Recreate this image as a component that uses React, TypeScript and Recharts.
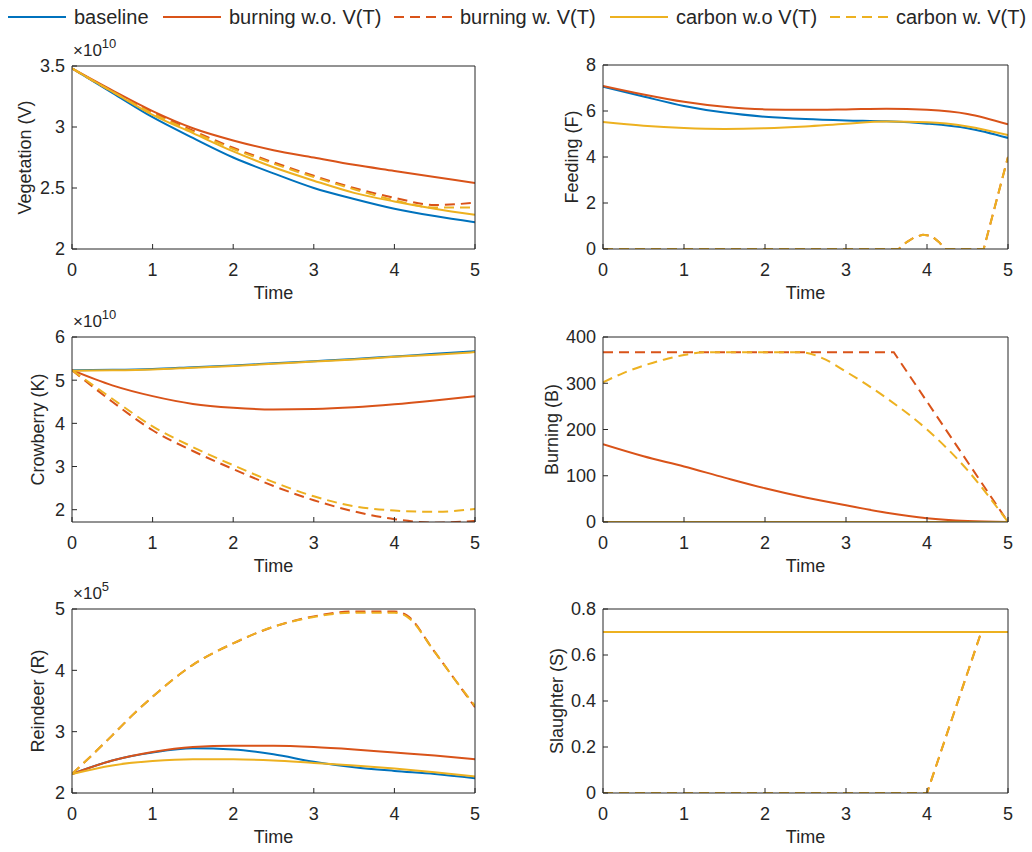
import { LineChart, Line, XAxis, YAxis, Label } from "recharts";

// MATLAB default palette
const BLUE = "#0072BD";
const RED = "#D95319";
const YEL = "#EDB120";
const INK = "#262626";
const FONT = "'Liberation Sans', Arial, Helvetica, sans-serif";

// shared time grid for the smooth curves
const T = [0, 0.5, 1, 1.5, 2, 2.5, 3, 3.5, 4, 4.5, 5];
const xTicks = [0, 1, 2, 3, 4, 5];

// Vegetation (V), x10^10
const vegBase = [3.48, 3.28, 3.08, 2.91, 2.75, 2.62, 2.5, 2.41, 2.33, 2.27, 2.22];
const vegBurn = [3.48, 3.3, 3.13, 2.99, 2.89, 2.81, 2.75, 2.69, 2.64, 2.59, 2.54];
const vegBurnV = [3.48, 3.29, 3.12, 2.97, 2.83, 2.71, 2.6, 2.5, 2.42, 2.36, 2.38];
const vegCarb = [3.48, 3.29, 3.1, 2.95, 2.8, 2.67, 2.56, 2.46, 2.39, 2.33, 2.28];
const vegCarbV = [3.48, 3.29, 3.11, 2.96, 2.82, 2.7, 2.59, 2.49, 2.4, 2.34, 2.34];

// Feeding (F)
const fdBase = [7.06, 6.63, 6.22, 5.93, 5.75, 5.65, 5.59, 5.55, 5.45, 5.25, 4.83];
const fdBurn = [7.09, 6.72, 6.4, 6.18, 6.07, 6.05, 6.07, 6.1, 6.05, 5.87, 5.42];
const fdCarb = [5.52, 5.36, 5.26, 5.22, 5.25, 5.33, 5.45, 5.54, 5.51, 5.33, 4.95];
const fdDashT = [0, 3.65, 3.75, 3.85, 3.95, 4.05, 4.15, 4.22, 4.7, 5];
const fdBurnV = [0, 0, 0.3, 0.52, 0.62, 0.58, 0.3, 0, 0, 4.0];
const fdCarbV = [0, 0, 0.3, 0.52, 0.62, 0.58, 0.3, 0, 0, 4.0];

// Crowberry (K), x10^10
const crBase = [5.23, 5.24, 5.26, 5.3, 5.34, 5.39, 5.44, 5.49, 5.55, 5.61, 5.67];
const crBurn = [5.23, 4.88, 4.63, 4.45, 4.36, 4.32, 4.33, 4.37, 4.44, 4.53, 4.63];
const crBurnV = [5.23, 4.5, 3.84, 3.36, 2.94, 2.55, 2.22, 1.96, 1.78, 1.7, 1.74];
const crCarb = [5.22, 5.23, 5.25, 5.29, 5.33, 5.38, 5.43, 5.48, 5.54, 5.59, 5.65];
const crCarbV = [5.23, 4.57, 3.93, 3.45, 3.03, 2.64, 2.31, 2.08, 1.98, 1.95, 2.02];

// Burning (B)
const bnZero = [0, 0, 0, 0, 0, 0, 0, 0, 0, 0, 0];
const bnBurn = [168, 142, 120, 96, 73, 53, 36, 20, 8, 2, 0];
const bnBurnVT = [0, 3.59, 5];
const bnBurnV = [367, 367, 0];
const bnCarbVT = [0, 0.25, 0.5, 0.75, 1, 1.25, 2.45, 2.7, 3, 3.5, 4, 4.5, 5];
const bnCarbV = [302, 322, 338, 351, 361, 367, 367, 355, 325, 268, 200, 112, 0];

// Reindeer (R), x10^5
const rdBase = [2.31, 2.53, 2.66, 2.73, 2.71, 2.63, 2.51, 2.42, 2.36, 2.31, 2.24];
const rdBurn = [2.31, 2.53, 2.67, 2.75, 2.77, 2.77, 2.75, 2.71, 2.66, 2.61, 2.55];
const rdCarb = [2.31, 2.45, 2.52, 2.55, 2.55, 2.53, 2.49, 2.45, 2.4, 2.34, 2.27];
const rdDashT = [0, 0.25, 0.5, 0.75, 1, 1.5, 2, 2.5, 3, 3.5, 4, 4.15, 4.5, 4.75, 5];
const rdBurnV = [2.31, 2.62, 2.94, 3.27, 3.57, 4.09, 4.44, 4.71, 4.88, 4.96, 4.96, 4.9, 4.3, 3.85, 3.4];
const rdCarbV = [2.31, 2.62, 2.94, 3.27, 3.57, 4.09, 4.44, 4.71, 4.87, 4.94, 4.94, 4.88, 4.3, 3.85, 3.42];

// Slaughter (S)
const slSolid = [0.7, 0.7, 0.7, 0.7, 0.7, 0.7, 0.7, 0.7, 0.7, 0.7, 0.7];
const slDashT = [0, 4, 4.67, 5];
const slDashV = [0, 0, 0.7, 0.7];

const legendItems = [
  { label: "baseline", color: BLUE, dashed: false },
  { label: "burning w.o. V(T)", color: RED, dashed: false },
  { label: "burning w. V(T)", color: RED, dashed: true },
  { label: "carbon w.o V(T)", color: YEL, dashed: false },
  { label: "carbon w. V(T)", color: YEL, dashed: true },
];

type Pt = { t: number; v: number };
const zip = (ts: number[], vs: number[]): Pt[] => ts.map((t, i) => ({ t, v: vs[i] }));

type Series = { pts: Pt[]; color: string; dashed?: boolean; linear?: boolean };

const set = (
  base: number[],
  burn: number[],
  burnV: Pt[],
  carb: number[],
  carbV: Pt[],
  linearDash = false
): Series[] => [
  { pts: zip(T, base), color: BLUE },
  { pts: zip(T, burn), color: RED },
  { pts: burnV, color: RED, dashed: true, linear: linearDash },
  { pts: zip(T, carb), color: YEL },
  { pts: carbV, color: YEL, dashed: true, linear: linearDash },
];

const PADL = 110;
const PADT = 12;
const PADR = 12;
const PADB = 95;
const XH = 88;

function Panel({
  x,
  y,
  w,
  h,
  yLabel,
  yDomain,
  yTicks,
  labelOffset,
  series,
  exp,
}: {
  x: number;
  y: number;
  w: number;
  h: number;
  yLabel: string;
  yDomain: [number, number];
  yTicks: number[];
  labelOffset: number;
  series: Series[];
  exp?: string;
}) {
  const yW = labelOffset * 2;
  const W = PADL + w + PADR;
  const H = PADT + h + PADB;
  return (
    <>
      <div style={{ position: "absolute", left: x - PADL, top: y - PADT, width: W, height: H }}>
        <LineChart
          width={W}
          height={H}
          margin={{ top: PADT - 1, right: PADR - 1, bottom: PADB - XH, left: PADL - yW }}
        >
          <XAxis
            dataKey="t"
            type="number"
            domain={[0, 5]}
            ticks={xTicks}
            allowDataOverflow
            height={XH}
            tickSize={-5}
            tickMargin={19}
            tick={{ fill: INK, fontSize: 18 }}
            axisLine={{ stroke: INK }}
            tickLine={{ stroke: INK }}
          >
            <Label value="Time" position="center" fill={INK} fontSize={18} />
          </XAxis>
          <XAxis
            xAxisId="top"
            orientation="top"
            type="number"
            domain={[0, 5]}
            ticks={xTicks}
            allowDataOverflow
            height={1}
            tickSize={-5}
            tick={false}
            axisLine={{ stroke: INK }}
            tickLine={{ stroke: INK }}
          />
          <YAxis
            type="number"
            domain={yDomain}
            ticks={yTicks}
            allowDataOverflow
            width={yW}
            tickSize={-5}
            tickMargin={12}
            tick={{ fill: INK, fontSize: 18 }}
            axisLine={{ stroke: INK }}
            tickLine={{ stroke: INK }}
          >
            <Label value={yLabel} position="center" angle={-90} fill={INK} fontSize={18} />
          </YAxis>
          <YAxis
            yAxisId="right"
            orientation="right"
            type="number"
            domain={yDomain}
            ticks={yTicks}
            allowDataOverflow
            width={1}
            tickSize={-5}
            tick={false}
            axisLine={{ stroke: INK }}
            tickLine={{ stroke: INK }}
          />
          {series.map((s, i) => (
            <Line
              key={i}
              data={s.pts}
              dataKey="v"
              type={s.linear ? "linear" : "monotone"}
              stroke={s.color}
              strokeWidth={2}
              strokeDasharray={s.dashed ? "10 6" : undefined}
              dot={false}
              activeDot={false}
              isAnimationActive={false}
            />
          ))}
        </LineChart>
      </div>
      {exp && (
        <div style={{ position: "absolute", left: x + 1, top: y - 24, color: INK, whiteSpace: "nowrap" }}>
          <span style={{ fontSize: 17, lineHeight: "17px" }}>×10</span>
          <span style={{ fontSize: 13, lineHeight: "13px", position: "relative", top: -8 }}>{exp}</span>
        </div>
      )}
    </>
  );
}

function Legend() {
  const lefts = [8, 163, 394, 610, 830];
  return (
    <>
      {legendItems.map((it, i) => (
        <div
          key={it.label}
          style={{ position: "absolute", left: lefts[i], top: 6, height: 22, display: "flex", alignItems: "center", whiteSpace: "nowrap" }}
        >
          <svg width={60} height={22} style={{ display: "block" }}>
            <line
              x1={0}
              y1={11}
              x2={58}
              y2={11}
              stroke={it.color}
              strokeWidth={2}
              strokeDasharray={it.dashed ? "10 6" : undefined}
            />
          </svg>
          <span style={{ fontSize: 20, lineHeight: "22px", color: INK, marginLeft: 6 }}>{it.label}</span>
        </div>
      ))}
    </>
  );
}

export default function App() {
  return (
    <div
      style={{
        position: "absolute",
        left: 0,
        top: 0,
        width: 1032,
        height: 852,
        background: "#fff",
        fontFamily: FONT,
        overflow: "hidden",
      }}
    >
      <Legend />
      <Panel
        x={72}
        y={66}
        w={403}
        h={183}
        yLabel="Vegetation (V)"
        yDomain={[2, 3.5]}
        yTicks={[2, 2.5, 3, 3.5]}
        labelOffset={47}
        exp="10"
        series={set(vegBase, vegBurn, zip(T, vegBurnV), vegCarb, zip(T, vegCarbV))}
      />
      <Panel
        x={603}
        y={65}
        w={405}
        h={184}
        yLabel="Feeding (F)"
        yDomain={[0, 8]}
        yTicks={[0, 2, 4, 6, 8]}
        labelOffset={31}
        series={set(fdBase, fdBurn, zip(fdDashT, fdBurnV), fdCarb, zip(fdDashT, fdCarbV), true)}
      />
      <Panel
        x={72}
        y={337}
        w={403}
        h={185}
        yLabel="Crowberry (K)"
        yDomain={[1.715, 6]}
        yTicks={[2, 3, 4, 5, 6]}
        labelOffset={34}
        exp="10"
        series={set(crBase, crBurn, zip(T, crBurnV), crCarb, zip(T, crCarbV))}
      />
      <Panel
        x={603}
        y={337}
        w={405}
        h={185}
        yLabel="Burning (B)"
        yDomain={[0, 400]}
        yTicks={[0, 100, 200, 300, 400]}
        labelOffset={51}
        series={[
          { pts: zip(T, bnZero), color: BLUE },
          { pts: zip(T, bnBurn), color: RED },
          { pts: zip(bnBurnVT, bnBurnV), color: RED, dashed: true, linear: true },
          { pts: zip(T, bnZero), color: YEL },
          { pts: zip(bnCarbVT, bnCarbV), color: YEL, dashed: true },
        ]}
      />
      <Panel
        x={72}
        y={609}
        w={403}
        h={184}
        yLabel="Reindeer (R)"
        yDomain={[2, 5]}
        yTicks={[2, 3, 4, 5]}
        labelOffset={34}
        exp="5"
        series={set(rdBase, rdBurn, zip(rdDashT, rdBurnV), rdCarb, zip(rdDashT, rdCarbV))}
      />
      <Panel
        x={603}
        y={609}
        w={405}
        h={184}
        yLabel="Slaughter (S)"
        yDomain={[0, 0.8]}
        yTicks={[0, 0.2, 0.4, 0.6, 0.8]}
        labelOffset={46}
        series={set(slSolid, slSolid, zip(slDashT, slDashV), slSolid, zip(slDashT, slDashV), true)}
      />
    </div>
  );
}
